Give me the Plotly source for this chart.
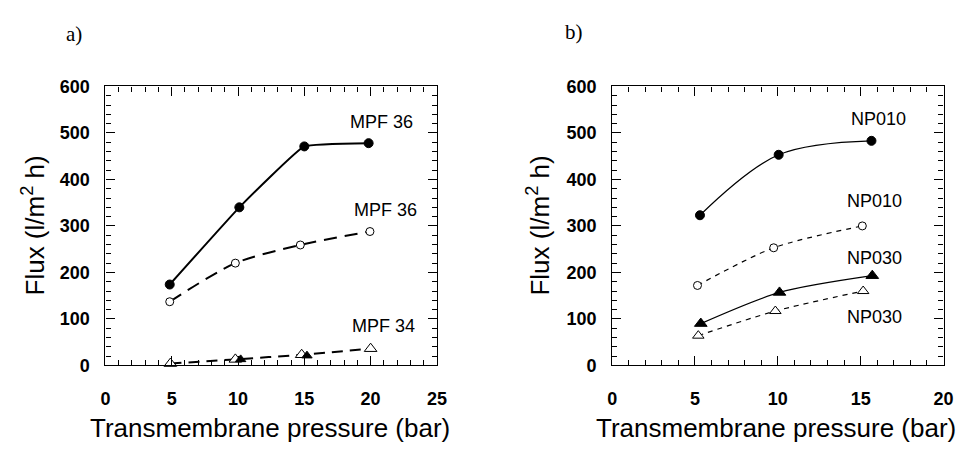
import plotly.graph_objects as go

# ---- data: panel a (MPF membranes) ----
a_mpf36_filled_x = [4.85, 10.1, 15.0, 19.85]
a_mpf36_filled_y = [174, 340, 471, 478]
a_mpf36_open_x = [4.85, 9.8, 14.7, 19.95]
a_mpf36_open_y = [137, 220, 259, 288]
a_mpf34_open_x = [4.9, 9.8, 14.8, 20.0]
a_mpf34_open_y = [4, 13, 23, 36]
a_mpf34_filled_x = [10.2, 15.2]
a_mpf34_filled_y = [13, 21]

# ---- data: panel b (NP membranes) ----
b_np010_filled_x = [5.3, 10.05, 15.65]
b_np010_filled_y = [323, 453, 483]
b_np010_open_x = [5.15, 9.75, 15.1]
b_np010_open_y = [172, 253, 300]
b_np030_filled_x = [5.35, 10.1, 15.7]
b_np030_filled_y = [90, 157, 193]
b_np030_open_x = [5.2, 9.85, 15.15]
b_np030_open_y = [64, 117, 160]

series_labels_a = ["MPF 36", "MPF 36", "MPF 34"]
series_labels_b = ["NP010", "NP010", "NP030", "NP030"]

# tick values / labels
x_ticks_a = [0, 5, 10, 15, 20, 25]
x_ticks_b = [0, 5, 10, 15, 20]
y_ticks = [0, 100, 200, 300, 400, 500, 600]

x_title = "Transmembrane pressure (bar)"
y_title = "Flux (l/m<sup>2</sup> h)"

W, H = 968, 449
SANS = "Liberation Sans, Arial, sans-serif"
SERIF = "Liberation Serif, Times New Roman, serif"

fig = go.Figure()


def add_series(x, y, xa, ya, symbol, size, line_width, dash, smoothing, fill):
    fig.add_trace(go.Scatter(
        x=x, y=y, xaxis=xa, yaxis=ya, mode="lines+markers",
        line=dict(color="black", width=line_width, dash=dash,
                  shape="spline", smoothing=smoothing),
        marker=dict(symbol=symbol, size=size,
                    color="black" if fill else "white",
                    line=dict(color="black", width=1)),
        cliponaxis=False, showlegend=False, hoverinfo="x+y",
    ))


def add_markers(x, y, xa, ya, symbol, size):
    fig.add_trace(go.Scatter(
        x=x, y=y, xaxis=xa, yaxis=ya, mode="markers",
        marker=dict(symbol=symbol, size=size, color="black",
                    line=dict(color="black", width=1)),
        cliponaxis=False, showlegend=False, hoverinfo="x+y",
    ))


# panel a
add_series(a_mpf36_open_x, a_mpf36_open_y, "x", "y", "circle", 8, 2, "13px,8px", 0.8, False)
add_series(a_mpf34_open_x, a_mpf34_open_y, "x", "y", "triangle-up", 11, 2, "11px,7px", 0.6, False)
add_markers(a_mpf34_filled_x, a_mpf34_filled_y, "x", "y", "triangle-up", 9)
add_series(a_mpf36_filled_x, a_mpf36_filled_y, "x", "y", "circle", 9, 2, "solid", 0.3, True)

# panel b
add_series(b_np010_filled_x, b_np010_filled_y, "x2", "y2", "circle", 9, 1.2, "solid", 1.0, True)
add_series(b_np010_open_x, b_np010_open_y, "x2", "y2", "circle", 8, 1.2, "5px,5px", 0.8, False)
add_series(b_np030_filled_x, b_np030_filled_y, "x2", "y2", "triangle-up", 11, 1.2, "solid", 0.8, True)
add_series(b_np030_open_x, b_np030_open_y, "x2", "y2", "triangle-up", 10, 1.2, "5px,5px", 0.8, False)

# axis geometry (pixels)
ax_a = (102, 438.7)
ax_b = (616.7, 953.3)
ax_top, ax_bot = 80, 372
ydom = [1 - ax_bot / H, 1 - ax_top / H]

tick_font = dict(family=SANS, size=18, color="black")


def bold(vals):
    return ["<b>%d</b>" % v for v in vals]


def xaxis_cfg(dom, rng, anchor, ticks):
    return dict(
        domain=[dom[0] / W, dom[1] / W], range=rng, anchor=anchor,
        tickmode="array", tickvals=ticks, ticktext=bold(ticks),
        ticks="inside", ticklen=9, tickwidth=1,
        minor=dict(dtick=1, tick0=0, ticks="inside", ticklen=5, tickwidth=1, tickcolor="black"),
        mirror="ticks", showline=True, linecolor="black", linewidth=1.2,
        tickcolor="black", showgrid=False, zeroline=False,
        tickfont=tick_font, ticklabelstandoff=17, fixedrange=True,
    )


def yaxis_cfg(anchor):
    return dict(
        domain=ydom, range=[0, 600], anchor=anchor,
        tickmode="array", tickvals=y_ticks, ticktext=bold(y_ticks),
        ticks="inside", ticklen=9, tickwidth=1,
        minor=dict(dtick=20, tick0=0, ticks="inside", ticklen=5, tickwidth=1, tickcolor="black"),
        mirror="ticks", showline=True, linecolor="black", linewidth=1.2,
        tickcolor="black", showgrid=False, zeroline=False,
        tickfont=tick_font, ticklabelstandoff=11, fixedrange=True,
    )


annotations = []


def ann(xp, yp, text, size, family=SANS, angle=0):
    annotations.append(dict(
        x=xp / W, y=1 - yp / H, xref="paper", yref="paper", text=text,
        showarrow=False, xanchor="center", yanchor="middle", textangle=angle,
        font=dict(family=family, size=size, color="black"),
    ))


# axis titles
ann((ax_a[0] + ax_a[1]) / 2 - 1, 438, x_title, 26)
ann((ax_b[0] + ax_b[1]) / 2 - 2, 438, x_title, 26)
ann(29, 226, y_title, 26, angle=-90)
ann(542, 226, y_title, 26, angle=-90)

# panel letters
ann(70, 25, "a)", 21, family=SERIF)
ann(578, 23, "b)", 21, family=SERIF)

# curve labels
for (px, py), t in zip([(382, 117.5), (386, 209.5), (384, 331)], series_labels_a):
    ann(px, py, t, 18)
for (px, py), t in zip([(887, 114.5), (883.5, 200), (883.5, 259.5), (883.5, 321.5)], series_labels_b):
    ann(px, py, t, 18)

fig.update_layout(
    width=W, height=H, margin=dict(l=0, r=0, t=0, b=0),
    paper_bgcolor="white", plot_bgcolor="white",
    xaxis=xaxis_cfg(ax_a, [0, 25], "y", x_ticks_a),
    yaxis=yaxis_cfg("x"),
    xaxis2=xaxis_cfg(ax_b, [0, 20], "y2", x_ticks_b),
    yaxis2=yaxis_cfg("x2"),
    annotations=annotations,
    showlegend=False,
)

fig.write_html("out.html")
